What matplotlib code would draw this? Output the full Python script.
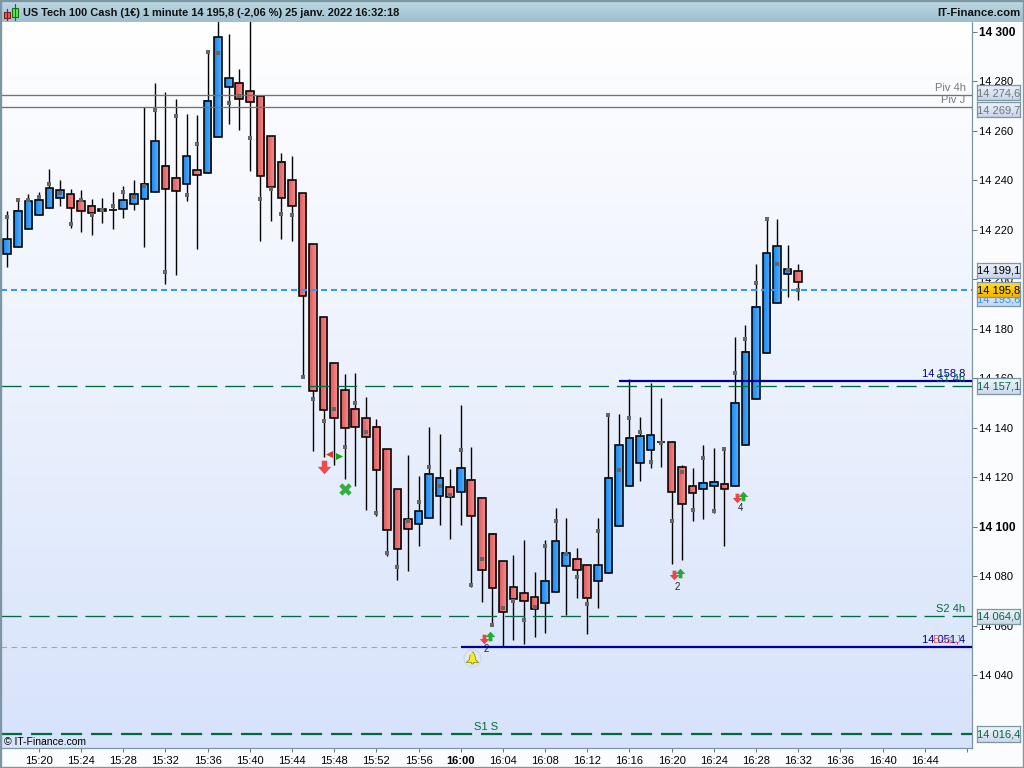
import numpy as np
import matplotlib
matplotlib.use('Agg')
import matplotlib.pyplot as plt
from matplotlib.colors import LinearSegmentedColormap
from matplotlib.patches import Rectangle

plt.rcParams['font.family'] = ['Liberation Sans', 'DejaVu Sans']

# one candle per minute, first one is 15:17
opens = [14210.2,14213.0,14220.3,14225.9,14228.8,14232.8,14234.4,14231.6,14229.6,14228.4,14228.2,14228.4,14230.4,14232.4,14235.2,14245.7,14240.9,14238.5,14244.1,14242.9,
         14257.5,14277.7,14279.3,14276.0,14274.0,14257.9,14247.4,14240.1,14234.8,14214.2,14184.7,14166.1,14155.2,14147.6,14143.9,14140.3,14131.4,14115.2,14103.1,14101.1,
         14103.5,14112.4,14116.0,14114.0,14118.9,14111.6,14097.1,14086.1,14075.6,14073.2,14071.6,14069.2,14073.6,14084.1,14087.0,14084.5,14078.1,14081.3,14100.3,14116.4,
         14126.0,14131.2,14134.2,14134.2,14124.1,14116.4,14115.2,14116.4,14117.3,14116.4,14133.0,14151.6,14170.2,14190.4,14202.1,14203.3]
highs = [14227.7,14232.1,14234.4,14235.4,14244.6,14240.1,14236.6,14236.0,14232.5,14232.9,14235.4,14237.7,14240.1,14269.6,14279.3,14275.6,14272.8,14266.7,14266.3,14291.8,
         14306.0,14299.2,14284.9,14306.0,14274.0,14257.9,14251.0,14249.9,14234.8,14214.2,14184.7,14166.1,14161.8,14162.2,14152.5,14143.6,14131.4,14115.2,14129.0,14120.6,
         14140.3,14137.6,14123.3,14149.2,14132.2,14111.6,14097.1,14086.1,14088.6,14094.6,14081.7,14094.6,14107.6,14103.5,14091.4,14084.5,14103.5,14145.1,14145.5,14159.7,
         14144.3,14158.1,14152.0,14134.6,14124.9,14123.7,14133.0,14131.9,14131.4,14176.6,14181.5,14206.1,14225.1,14224.3,14213.8,14206.1]
lows = [14205.2,14213.0,14220.3,14225.9,14228.8,14229.8,14220.9,14219.3,14218.1,14222.9,14220.5,14225.0,14228.2,14213.3,14235.2,14198.3,14201.9,14231.8,14212.4,14242.9,
        14257.5,14262.9,14260.5,14243.8,14215.7,14223.8,14216.5,14215.7,14160.5,14130.7,14128.4,14125.1,14119.4,14116.6,14106.9,14104.6,14088.4,14078.7,14082.3,14092.4,
        14103.5,14100.9,14095.3,14100.9,14075.9,14069.8,14060.3,14052.0,14054.5,14052.8,14055.7,14057.3,14073.6,14064.6,14071.4,14056.9,14067.4,14081.3,14100.3,14116.4,
        14118.7,14124.0,14124.4,14085.2,14086.8,14102.5,14103.4,14105.8,14092.4,14116.4,14133.0,14151.6,14170.2,14190.4,14193.1,14191.8]
closes = [14216.2,14227.6,14231.6,14232.0,14236.8,14236.0,14228.8,14227.6,14226.7,14227.6,14228.0,14232.0,14234.4,14238.5,14255.8,14236.4,14235.6,14249.8,14242.1,14272.0,
          14297.9,14281.3,14272.8,14271.6,14241.7,14237.3,14232.8,14229.6,14193.5,14155.1,14147.2,14144.2,14140.1,14140.3,14136.5,14122.9,14098.7,14091.0,14099.1,14106.3,
          14121.3,14119.7,14112.0,14123.7,14104.3,14082.5,14075.2,14065.5,14070.8,14070.0,14066.8,14078.1,14094.2,14089.4,14082.5,14071.2,14084.5,14119.7,14133.0,14135.8,
          14136.6,14137.1,14134.2,14114.0,14109.2,14113.6,14117.7,14118.1,14115.2,14150.0,14170.6,14188.8,14210.6,14213.4,14204.1,14198.9]
# grey square on each candle
dots = [14225.1,14232.0,14232.2,14233.2,14238.5,14234.8,14222.3,14232.0,14225.9,14228.0,14229.6,14235.2,14233.2,14237.7,14268.4,14202.9,14265.9,14234.0,14254.6,14291.8,
        14291.4,14271.2,14274.0,14257.1,14232.4,14236.4,14226.3,14225.9,14160.5,14151.6,14142.7,14147.6,14132.2,14150.0,14138.3,14105.5,14089.4,14083.7,14102.3,14110.0,
        14124.1,14116.4,14112.8,14131.0,14076.4,14087.0,14060.3,14067.2,14070.0,14062.3,14067.6,14092.2,14102.3,14089.0,14079.7,14068.8,14098.3,14145.1,14122.9,14143.9,
        14138.3,14126.1,14133.8,14102.3,14122.1,14106.8,14127.8,14106.3,14131.4,14162.1,14175.8,14198.5,14224.3,14206.1,14203.7,14195.6]

time_ticks = [3 + 4*i for i in range(23)]
time_labels = ['15:20','15:24','15:28','15:32','15:36','15:40','15:44','15:48','15:52','15:56','16:00','16:04',
               '16:08','16:12','16:16','16:20','16:24','16:28','16:32','16:36','16:40','16:44','']
price_ticks = [14040,14060,14080,14100,14120,14140,14160,14180,14200,14220,14240,14260,14280,14300]
price_labels = ['14 040','14 060','14 080','14 100','14 120','14 140','14 160','14 180','14 200','14 220','14 240','14 260','14 280','14 300']

piv_4h = 14274.6
piv_j = 14269.7
last_price = 14195.8
s1_4h = 14157.1
s2_4h = 14064.0
s1_s = 14016.4
res_level = 14158.8
sup_level = 14051.4
res_start = 58
sup_start = 43

W, H = 1024, 768
fig = plt.figure(figsize=(W/100, H/100), dpi=100, facecolor='#fbfcfe')
ax = fig.add_axes([1/W, (H-748)/H, 970.5/W, 726/H])

XLIM = (-0.597, 91.44)
YLIM = (14010.7, 14304.04)

# panel background
bg = LinearSegmentedColormap.from_list('bg', ['#ffffff', '#d7e3fb'])
ax.imshow(np.linspace(0, 1, 256).reshape(-1, 1), cmap=bg, aspect='auto',
          extent=(XLIM[0], XLIM[1], YLIM[0], YLIM[1]), zorder=0)

# candles
blue_c = LinearSegmentedColormap.from_list('bc', ['#1c86ee', '#52b2ff'])
red_c = LinearSegmentedColormap.from_list('rc', ['#dc5c5c', '#f78c8c'])
x = np.arange(len(opens))
ax.vlines(x, lows, highs, color='black', lw=1.0, zorder=2)
grad = np.linspace(0, 1, 16).reshape(1, -1)
bw = 0.72
for i in x:
    lo = min(opens[i], closes[i])
    hi = max(opens[i], closes[i])
    cm = blue_c if closes[i] >= opens[i] else red_c
    ax.imshow(grad, cmap=cm, aspect='auto', extent=(i-bw/2, i+bw/2, lo, hi), zorder=3)
    ax.add_patch(Rectangle((i-bw/2, lo), bw, hi-lo, fc='none', ec='black', lw=1.15, zorder=4))
ax.scatter(x, dots, marker='s', s=7.5, color='#666666', linewidths=0, zorder=5)

# levels
ax.axhline(piv_4h, color='#6f7376', lw=0.95, zorder=6)
ax.axhline(piv_j, color='#6f7376', lw=0.95, zorder=6)
ax.axhline(last_price, color='#3399ff', lw=1.5, dashes=(2.9, 1.9), zorder=6)
ax.axhline(s1_4h, color='#006b3c', lw=0.95, dashes=(15.2, 6.0), zorder=6)
ax.axhline(s2_4h, color='#006b3c', lw=0.95, dashes=(15.2, 6.0), zorder=6)
ax.axhline(s1_s, color='#006b3c', lw=1.6, dashes=(9.5, 4.0), zorder=6)
ax.hlines(res_level, res_start, XLIM[1], color='#000099', lw=1.6, zorder=7)
ax.hlines(sup_level, sup_start, XLIM[1], color='#000099', lw=1.6, zorder=7)
ax.hlines(sup_level, XLIM[0], sup_start, color='#e58a8a', lw=0.8, linestyles=(0, (5, 4)), zorder=6)

# level names, placed against the right edge
def edge_text(txt, price, dy, col, dx=-4.3):
    ax.annotate(txt, xy=(1, price), xycoords=('axes fraction', 'data'), xytext=(dx, dy),
                textcoords='offset points', ha='right', va='center', fontsize=8, color=col, zorder=8)

edge_text('Piv 4h', piv_4h, 5, '#7a7a7a')
edge_text('Piv J', piv_j, 5, '#7a7a7a')
edge_text('14 158,8', res_level, 6, '#000099')
edge_text('S1 4h', s1_4h, 4.7, '#006b3c')
edge_text('S2 4h', s2_4h, 5, '#006b3c')
edge_text('14 051,4', sup_level, 5.6, '#000099')
edge_text('Bas J', sup_level, 5, '#e86060', dx=-8)
ax.text(45.4, s1_s + 2.8, 'S1 S', color='#006b3c', fontsize=8, ha='center', va='center', zorder=8)
ax.text(-0.35, 14011.2, '© IT-Finance.com', color='black', fontsize=7.5, ha='left', va='bottom', zorder=8)

# signal icons
down_arrow = [(-0.4, 1), (0.4, 1), (0.4, 0.1), (1, 0.1), (0, -1), (-1, 0.1), (-0.4, 0.1)]
up_arrow = [(px, -py) for px, py in down_arrow]
tri_left = [(1, -1), (1, 1), (-1, 0)]
tri_right = [(-1, -1), (-1, 1), (1, 0)]
bell = [(-0.1, 1), (0.1, 1), (0.35, 0.6), (0.5, -0.2), (0.9, -0.55), (0.9, -0.65), (0.15, -0.65), (0.15, -0.85),
        (-0.15, -0.85), (-0.15, -0.65), (-0.9, -0.65), (-0.9, -0.55), (-0.5, -0.2), (-0.35, 0.6)]

sell_x = [45.2, 63.25, 69.2]
sell_y = [14054.7, 14080.5, 14111.6]
buy_x = [45.8, 63.8, 69.8]
buy_y = [14055.9, 14081.3, 14112.4]
count_x = [45.45, 63.5, 69.5]
count_y = [14050.6, 14075.7, 14107.8]
count_lbl = ['2', '2', '4']

ax.scatter(sell_x, sell_y, marker=down_arrow, s=48, color='#ee4444', linewidths=0, zorder=8)
ax.scatter(buy_x, buy_y, marker=up_arrow, s=48, color='#22aa33', linewidths=0, zorder=8)
for cx, cy, cl in zip(count_x, count_y, count_lbl):
    ax.text(cx, cy, cl, fontsize=7, color='#222222', ha='center', va='center', zorder=6.5)
ax.scatter([30.0], [14124.2], marker=down_arrow, s=95, color='#ee4a4a', linewidths=0, zorder=8)
ax.scatter([30.5], [14129.6], marker=tri_left, s=26, color='#e03030', linewidths=0, zorder=8)
ax.scatter([31.5], [14128.8], marker=tri_right, s=26, color='#11aa11', linewidths=0, zorder=8)
ax.scatter([32.0], [14115.2], marker='X', s=80, color='#2fb040', linewidths=0, zorder=8)
ax.scatter([44.1], [14047.1], marker='o', s=150, color='#dfe8f0', edgecolors='#c3cfda', linewidths=0.5, zorder=8)
ax.scatter([44.1], [14047.1], marker=bell, s=85, color='#f7e92a', edgecolors='#807a10', linewidths=0.5, zorder=9)

ax.set_xlim(*XLIM)
ax.set_ylim(*YLIM)
ax.set_xticks(time_ticks)
ax.set_xticklabels(time_labels)
ax.yaxis.tick_right()
ax.set_yticks(price_ticks)
ax.set_yticklabels(price_labels)
ax.tick_params(axis='x', length=3, width=0.75, color='#667a88', labelsize=8, pad=3)
ax.tick_params(axis='y', length=3.6, width=0.75, color='#667a88', labelsize=8, pad=1.5)
for lab in ax.get_xticklabels():
    if lab.get_text() == '16:00':
        lab.set_fontweight('bold')
for lab in ax.get_yticklabels():
    if lab.get_text() in ('14 300', '14 100'):
        lab.set_fontweight('bold')
        lab.set_fontsize(8.6)
for name, sp in ax.spines.items():
    sp.set_visible(name in ('right', 'bottom'))
    sp.set_color('#7d96a4')
    sp.set_linewidth(0.9)

# value boxes on the price axis
box_prices = [piv_4h, piv_j, 14199.1, 14193.6, last_price, s1_4h, s2_4h, s1_s]
box_shift = [-2, 3, -11, 3.5, 0, 0.5, 0.5, 0.5]
box_texts = ['14 274,6', '14 269,7', '14 199,1', '14 193,6', '14 195,8', '14 157,1', '14 064,0', '14 016,4']
box_colors = ['#6e7478', '#6e7478', 'black', '#2f8fee', 'black', '#006b3c', '#006b3c', '#006b3c']
box_fills = [('#eef2fa', '#c9d6ec')] * 3 + [('#e6effc', '#c6d8f2')] + [('#ffe22a', '#f4b400')] + [('#f0f4fb', '#cdd9ec')] * 3

fig.canvas.draw()
for p, sh, t, c, f in zip(box_prices, box_shift, box_texts, box_colors, box_fills):
    ypx = ax.transData.transform((0, p))[1] - sh
    bax = fig.add_axes([976.5/W, (ypx-7.5)/H, 43.5/W, 15.5/H])
    bax.imshow(np.linspace(0, 1, 16).reshape(-1, 1), aspect='auto', extent=(0, 1, 0, 1),
               cmap=LinearSegmentedColormap.from_list('b', list(f)))
    bax.text(0.5, 0.47, t, color=c, fontsize=8, ha='center', va='center', transform=bax.transAxes)
    bax.set_xticks([])
    bax.set_yticks([])
    for sp in bax.spines.values():
        sp.set_color('#7d96a4')
        sp.set_linewidth(0.9)

# title strip
hax = fig.add_axes([0, (H-22)/H, 1, 22/H])
hax.imshow(np.linspace(0, 1, 32).reshape(-1, 1), aspect='auto', extent=(0, W, 22, 0),
           cmap=LinearSegmentedColormap.from_list('h', ['#bdd9e4', '#9fbfce']))
hax.set_xlim(0, W)
hax.set_ylim(22, 0)
hax.axis('off')
hax.plot([6.5, 6.5], [9, 20], color='#7a2020', lw=0.8)
hax.add_patch(Rectangle((3.5, 11.5), 6, 6.5, fc='#ee5a5a', ec='#7a2020', lw=0.8))
hax.plot([14.5, 14.5], [4, 20], color='#1c6a1c', lw=0.8)
hax.add_patch(Rectangle((11.5, 8), 6, 9, fc='#55ee55', ec='#1c6a1c', lw=0.8))
hax.text(23, 13, 'US Tech 100 Cash (1€) 1 minute 14 195,8 (-2,06 %) 25 janv. 2022 16:32:18',
         fontsize=7.95, fontweight='bold', color='#111111', ha='left', va='center')
hax.text(1020, 13, 'IT-Finance.com', fontsize=8.2, fontweight='bold', color='#111111', ha='right', va='center')

# outer frame
fig.add_artist(Rectangle((0, 0), 1, 1, transform=fig.transFigure, fc='none', ec='#7d96a4', lw=2.4))

fig.savefig('out.png', dpi=100, facecolor=fig.get_facecolor())
